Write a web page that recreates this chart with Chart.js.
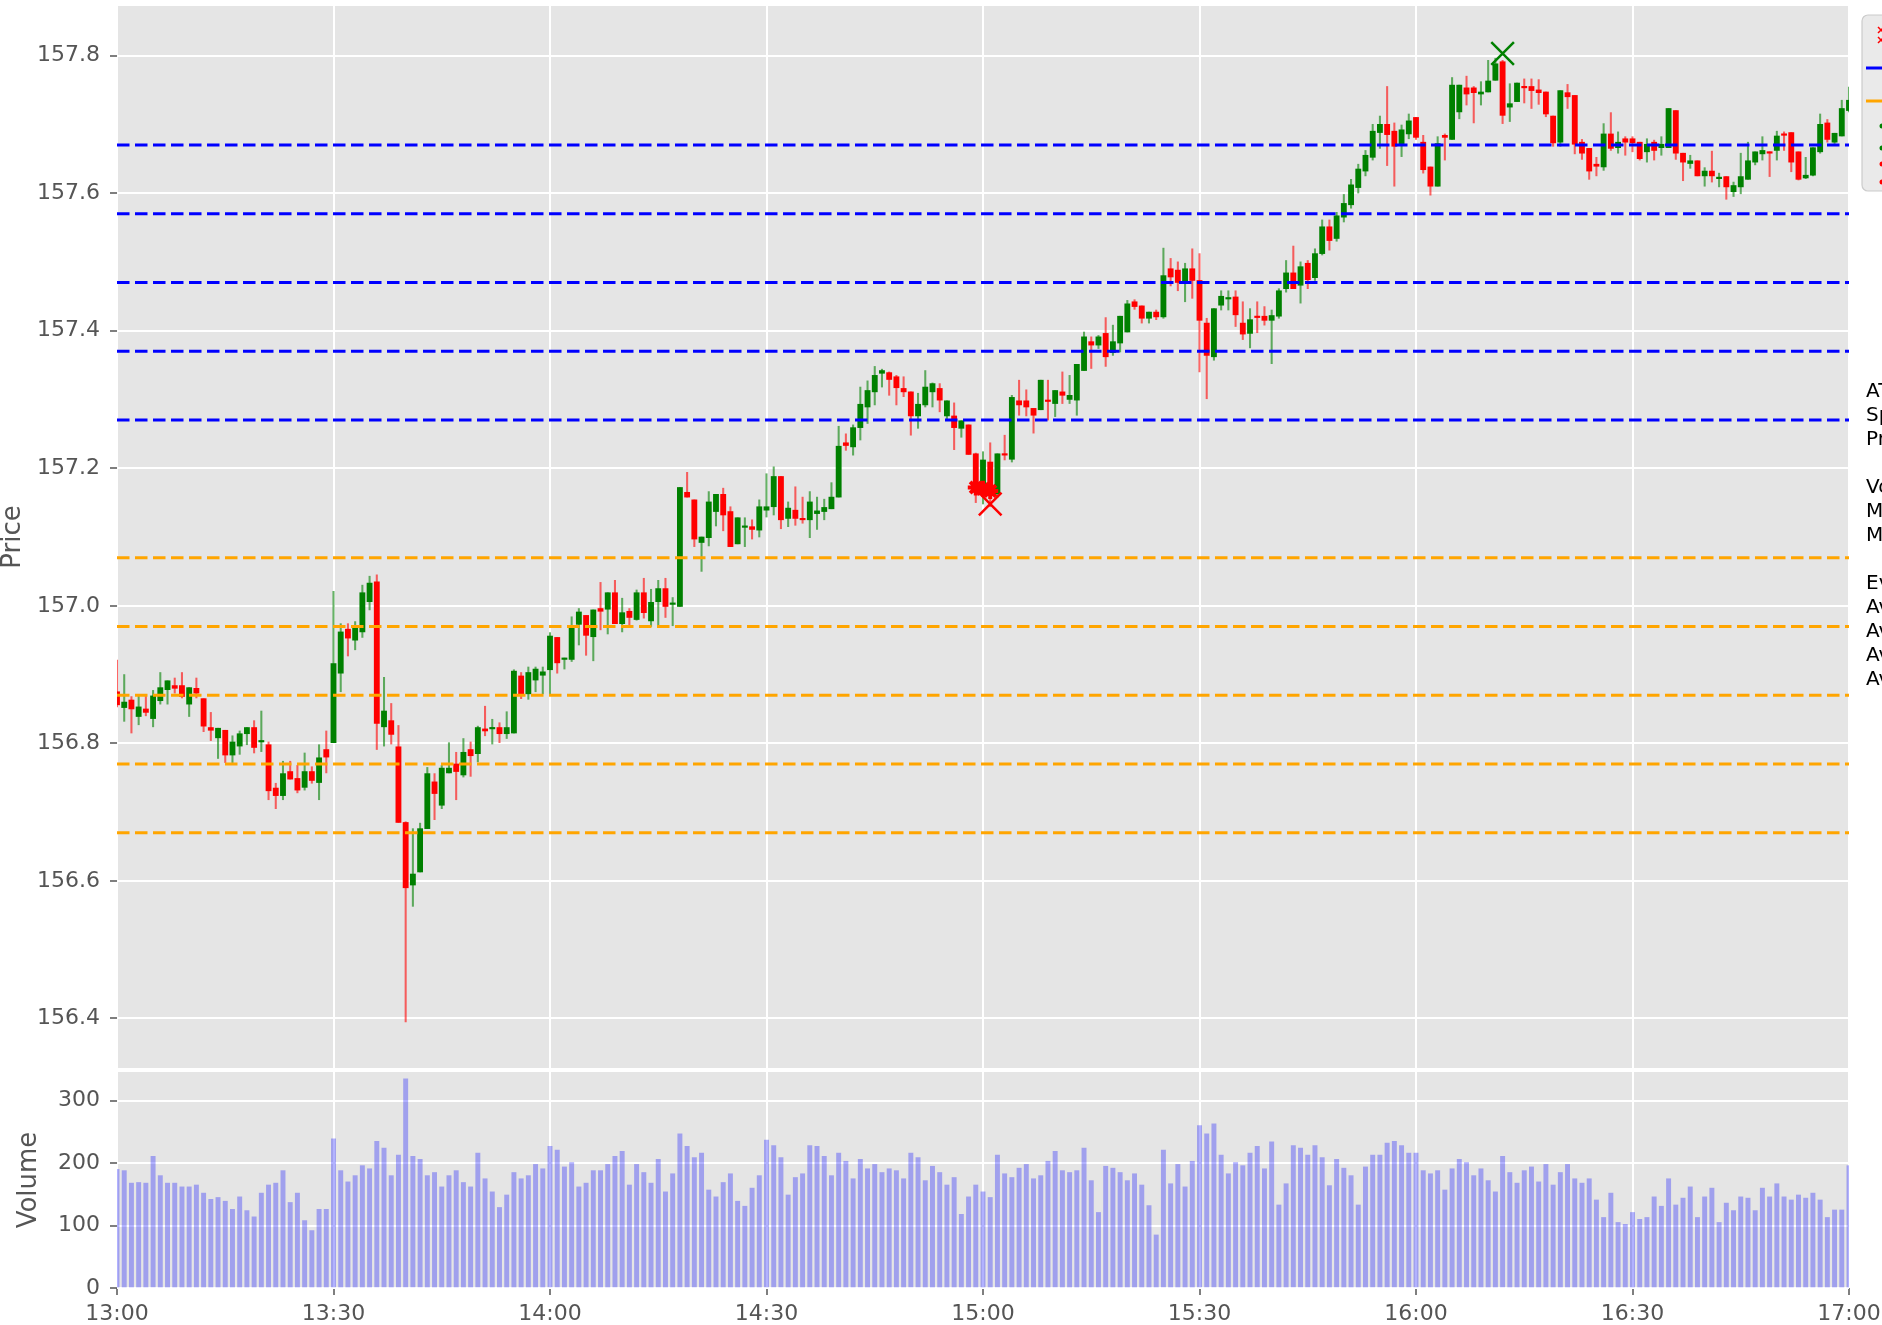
<!DOCTYPE html>
<html lang="en">

<head>
  <meta charset="UTF-8">
  <title>Price / Volume</title>
  <script src="https://cdn.jsdelivr.net/npm/chart.js"></script>
  <style>
    body { margin: 0; background: #fff; }
    #wrap { position: relative; width: 1882px; height: 1325px; overflow: hidden; }
    #wrap canvas { position: absolute; left: 0; top: 0; }
  </style>
</head>

<body>
  <div id="wrap">
    <canvas id="priceChart" width="1882" height="1325"></canvas>
    <canvas id="volumeChart" width="1882" height="1325"></canvas>
  </div>

  <script>
    // axis labels / ticks
    const tickLabels = ['13:00', '13:30', '14:00', '14:30', '15:00', '15:30', '16:00', '16:30', '17:00'];
    const priceTicks = [156.4, 156.6, 156.8, 157.0, 157.2, 157.4, 157.6, 157.8];
    const volumeTicks = [0, 100, 200, 300];

    // support / resistance levels
    const resistance = [157.27, 157.37, 157.47, 157.57, 157.67];
    const support = [157.07, 156.97, 156.87, 156.77, 156.67];

    // 1-minute candles, 13:00 .. 17:00 (index = minutes after 13:00)
    const opens = [
      156.875, 156.852, 156.863, 156.839, 156.850, 156.836, 156.862, 156.878, 156.884, 156.884,
      156.857, 156.880, 156.865, 156.823, 156.808, 156.819, 156.783, 156.796, 156.814, 156.823,
      156.802, 156.798, 156.735, 156.724, 156.759, 156.749, 156.736, 156.759, 156.743, 156.791,
      156.801, 156.902, 156.966, 156.950, 156.962, 157.006, 157.035, 156.824, 156.833, 156.795,
      156.685, 156.594, 156.613, 156.676, 156.744, 156.710, 156.757, 156.770, 156.754, 156.791,
      156.785, 156.821, 156.821, 156.823, 156.814, 156.815, 156.898, 156.872, 156.892, 156.899,
      156.907, 156.954, 156.922, 156.922, 156.973, 156.986, 156.955, 156.996, 156.995, 157.019,
      156.974, 156.992, 156.980, 157.019, 156.978, 157.006, 157.025, 157.002, 156.999, 157.165,
      157.154, 157.092, 157.099, 157.137, 157.162, 157.137, 157.090, 157.114, 157.115, 157.110,
      157.139, 157.144, 157.188, 157.127, 157.139, 157.126, 157.125, 157.134, 157.137, 157.141,
      157.158, 157.237, 157.231, 157.259, 157.289, 157.311, 157.338, 157.339, 157.333, 157.316,
      157.311, 157.276, 157.292, 157.311, 157.316, 157.276, 157.276, 157.258, 157.263, 157.221,
      157.165, 157.209, 157.163, 157.221, 157.213, 157.298, 157.298, 157.287, 157.285, 157.298,
      157.294, 157.311, 157.300, 157.299, 157.342, 157.384, 157.379, 157.396, 157.368, 157.382,
      157.398, 157.442, 157.436, 157.418, 157.427, 157.420, 157.490, 157.488, 157.471, 157.490,
      157.473, 157.411, 157.362, 157.437, 157.446, 157.449, 157.411, 157.396, 157.421, 157.421,
      157.415, 157.421, 157.461, 157.484, 157.466, 157.498, 157.477, 157.512, 157.551, 157.534,
      157.565, 157.583, 157.608, 157.632, 157.652, 157.688, 157.700, 157.690, 157.671, 157.686,
      157.710, 157.674, 157.638, 157.610, 157.684, 157.678, 157.718, 157.753, 157.753, 157.744,
      157.747, 157.764, 157.791, 157.725, 157.733, 157.755, 157.755, 157.750, 157.747, 157.712,
      157.674, 157.746, 157.742, 157.674, 157.665, 157.642, 157.638, 157.686, 157.666, 157.679,
      157.679, 157.674, 157.660, 157.674, 157.666, 157.666, 157.720, 157.658, 157.643, 157.647,
      157.625, 157.632, 157.621, 157.624, 157.602, 157.609, 157.620, 157.645, 157.657, 157.660,
      157.662, 157.686, 157.688, 157.660, 157.622, 157.626, 157.660, 157.702, 157.674, 157.683,
      157.720
    ];
    const highs = [
      156.921, 156.900, 156.868, 156.869, 156.869, 156.877, 156.903, 156.891, 156.895, 156.903,
      156.881, 156.895, 156.865, 156.845, 156.822, 156.819, 156.811, 156.818, 156.823, 156.833,
      156.847, 156.802, 156.742, 156.774, 156.774, 156.768, 156.786, 156.766, 156.798, 156.818,
      157.021, 156.974, 156.974, 156.977, 157.030, 157.043, 157.045, 156.896, 156.858, 156.826,
      156.686, 156.676, 156.684, 156.765, 156.756, 156.768, 156.801, 156.787, 156.807, 156.802,
      156.825, 156.854, 156.835, 156.830, 156.846, 156.907, 156.903, 156.911, 156.911, 156.911,
      156.961, 156.954, 156.924, 156.984, 156.996, 156.986, 156.994, 157.034, 157.019, 157.037,
      157.011, 156.996, 157.023, 157.040, 157.024, 157.037, 157.040, 157.012, 157.172, 157.194,
      157.154, 157.100, 157.166, 157.162, 157.171, 157.144, 157.128, 157.128, 157.125, 157.154,
      157.192, 157.202, 157.188, 157.151, 157.173, 157.158, 157.166, 157.158, 157.155, 157.179,
      157.261, 157.250, 157.263, 157.318, 157.327, 157.348, 157.344, 157.340, 157.335, 157.333,
      157.311, 157.309, 157.342, 157.324, 157.323, 157.298, 157.295, 157.269, 157.263, 157.222,
      157.224, 157.237, 157.221, 157.248, 157.306, 157.328, 157.314, 157.287, 157.328, 157.328,
      157.313, 157.340, 157.335, 157.351, 157.398, 157.391, 157.393, 157.419, 157.408, 157.421,
      157.444, 157.445, 157.436, 157.427, 157.430, 157.520, 157.505, 157.500, 157.498, 157.519,
      157.512, 157.418, 157.432, 157.458, 157.458, 157.458, 157.442, 157.432, 157.442, 157.435,
      157.430, 157.461, 157.502, 157.523, 157.500, 157.502, 157.519, 157.561, 157.561, 157.572,
      157.598, 157.620, 157.642, 157.662, 157.700, 157.712, 157.755, 157.702, 157.699, 157.715,
      157.710, 157.684, 157.638, 157.682, 157.686, 157.768, 157.757, 157.770, 157.755, 157.762,
      157.793, 157.796, 157.793, 157.759, 157.760, 157.766, 157.766, 157.765, 157.747, 157.712,
      157.749, 157.758, 157.742, 157.678, 157.665, 157.652, 157.701, 157.717, 157.689, 157.682,
      157.682, 157.674, 157.679, 157.677, 157.682, 157.723, 157.720, 157.658, 157.655, 157.647,
      157.637, 157.661, 157.629, 157.624, 157.616, 157.658, 157.674, 157.660, 157.682, 157.660,
      157.690, 157.689, 157.688, 157.660, 157.652, 157.666, 157.715, 157.707, 157.687, 157.735,
      157.754
    ];
    const lows = [
      156.853, 156.832, 156.815, 156.827, 156.840, 156.824, 156.857, 156.857, 156.873, 156.866,
      156.839, 156.866, 156.817, 156.804, 156.778, 156.772, 156.772, 156.784, 156.798, 156.786,
      156.788, 156.718, 156.705, 156.718, 156.748, 156.728, 156.732, 156.742, 156.718, 156.757,
      156.801, 156.875, 156.927, 156.936, 156.954, 156.994, 156.791, 156.796, 156.799, 156.685,
      156.395, 156.563, 156.613, 156.676, 156.689, 156.705, 156.757, 156.718, 156.751, 156.752,
      156.773, 156.811, 156.799, 156.801, 156.807, 156.815, 156.865, 156.864, 156.875, 156.872,
      156.872, 156.902, 156.908, 156.919, 156.943, 156.928, 156.920, 156.965, 156.959, 156.974,
      156.962, 156.972, 156.979, 156.982, 156.970, 156.970, 156.983, 156.971, 156.999, 157.158,
      157.086, 157.050, 157.087, 157.116, 157.109, 157.086, 157.090, 157.086, 157.097, 157.100,
      157.129, 157.132, 157.112, 157.115, 157.117, 157.120, 157.099, 157.111, 157.125, 157.141,
      157.158, 157.226, 157.219, 157.241, 157.265, 157.292, 157.318, 157.306, 157.292, 157.304,
      157.248, 157.258, 157.289, 157.289, 157.282, 157.272, 157.227, 157.245, 157.220, 157.150,
      157.148, 157.144, 157.158, 157.212, 157.209, 157.277, 157.276, 157.251, 157.285, 157.270,
      157.275, 157.294, 157.294, 157.277, 157.342, 157.345, 157.374, 157.348, 157.364, 157.369,
      157.398, 157.431, 157.411, 157.411, 157.416, 157.418, 157.465, 157.458, 157.442, 157.447,
      157.340, 157.301, 157.357, 157.430, 157.430, 157.406, 157.387, 157.375, 157.397, 157.408,
      157.352, 157.418, 157.456, 157.461, 157.440, 157.461, 157.473, 157.510, 157.517, 157.530,
      157.558, 157.578, 157.600, 157.625, 157.648, 157.665, 157.640, 157.610, 157.653, 157.679,
      157.678, 157.629, 157.597, 157.610, 157.648, 157.678, 157.708, 157.728, 157.702, 157.728,
      157.747, 157.764, 157.701, 157.704, 157.733, 157.731, 157.723, 157.729, 157.711, 157.668,
      157.668, 157.723, 157.657, 157.649, 157.620, 157.625, 157.633, 157.662, 157.658, 157.655,
      157.660, 157.648, 157.645, 157.648, 157.655, 157.666, 157.649, 157.618, 157.636, 157.625,
      157.610, 157.616, 157.609, 157.591, 157.595, 157.599, 157.620, 157.641, 157.648, 157.624,
      157.648, 157.662, 157.631, 157.619, 157.621, 157.625, 157.658, 157.674, 157.672, 157.683,
      157.718
    ];
    const closes = [
      156.856, 156.860, 156.850, 156.853, 156.845, 156.869, 156.881, 156.891, 156.880, 156.868,
      156.881, 156.873, 156.825, 156.819, 156.822, 156.783, 156.802, 156.814, 156.823, 156.794,
      156.803, 156.731, 156.724, 156.756, 156.748, 156.732, 156.759, 156.746, 156.779, 156.780,
      156.916, 156.962, 156.953, 156.969, 157.019, 157.033, 156.829, 156.847, 156.813, 156.685,
      156.590, 156.610, 156.676, 156.756, 156.727, 156.764, 156.764, 156.759, 156.787, 156.782,
      156.823, 156.818, 156.822, 156.814, 156.823, 156.905, 156.872, 156.903, 156.908, 156.904,
      156.956, 156.917, 156.923, 156.970, 156.991, 156.957, 156.994, 156.992, 157.019, 156.974,
      156.990, 156.983, 157.019, 156.990, 157.005, 157.025, 156.999, 157.003, 157.172, 157.158,
      157.097, 157.100, 157.151, 157.162, 157.132, 157.086, 157.128, 157.115, 157.111, 157.144,
      157.144, 157.188, 157.125, 157.142, 157.127, 157.125, 157.151, 157.138, 157.143, 157.158,
      157.232, 157.233, 157.259, 157.293, 157.313, 157.335, 157.342, 157.329, 157.317, 157.311,
      157.276, 157.293, 157.318, 157.323, 157.299, 157.298, 157.259, 157.269, 157.220, 157.165,
      157.212, 157.163, 157.221, 157.219, 157.303, 157.292, 157.289, 157.277, 157.328, 157.297,
      157.313, 157.306, 157.306, 157.351, 157.391, 157.379, 157.391, 157.362, 157.384, 157.421,
      157.439, 157.435, 157.418, 157.427, 157.420, 157.480, 157.478, 157.470, 157.490, 157.473,
      157.415, 157.364, 157.432, 157.450, 157.447, 157.423, 157.395, 157.416, 157.419, 157.415,
      157.422, 157.458, 157.484, 157.461, 157.493, 157.474, 157.512, 157.551, 157.531, 157.567,
      157.585, 157.612, 157.635, 157.655, 157.690, 157.700, 157.685, 157.668, 157.692, 157.705,
      157.681, 157.634, 157.610, 157.672, 157.681, 157.757, 157.757, 157.744, 157.746, 157.747,
      157.763, 157.788, 157.713, 157.730, 157.760, 157.753, 157.749, 157.746, 157.715, 157.673,
      157.749, 157.740, 157.671, 157.658, 157.632, 157.639, 157.686, 157.665, 157.674, 157.674,
      157.673, 157.650, 157.671, 157.662, 157.671, 157.723, 157.658, 157.645, 157.647, 157.625,
      157.632, 157.625, 157.623, 157.609, 157.611, 157.624, 157.647, 157.660, 157.662, 157.658,
      157.683, 157.684, 157.645, 157.620, 157.626, 157.666, 157.700, 157.678, 157.687, 157.723,
      157.735
    ];
    const volumes = [
      190, 188, 168, 169, 168, 211, 180, 168, 168, 162, 162, 165, 152, 142, 145, 139, 126, 146, 124, 114,
      152, 165, 168, 188, 137, 152, 108, 92, 126, 126, 239, 188, 170, 180, 196, 191, 235, 224, 180, 213,
      335, 211, 206, 180, 185, 162, 180, 188, 169, 162, 216, 175, 154, 129, 149, 185, 175, 180, 198, 191,
      227, 221, 194, 201, 162, 168, 188, 188, 198, 211, 219, 165, 198, 185, 168, 206, 154, 183, 247, 227,
      209, 216, 157, 146, 169, 183, 139, 131, 160, 180, 237, 228, 209, 149, 177, 183, 228, 227, 211, 180,
      216, 203, 175, 206, 191, 198, 185, 191, 188, 175, 216, 209, 172, 195, 185, 165, 177, 118, 146, 165,
      154, 145, 213, 183, 177, 192, 198, 175, 180, 203, 219, 188, 185, 188, 224, 172, 121, 195, 192, 185,
      172, 183, 165, 132, 85, 221, 167, 198, 162, 203, 260, 247, 263, 213, 183, 201, 196, 216, 227, 191,
      234, 133, 167, 228, 224, 213, 228, 209, 164, 206, 192, 180, 133, 194, 213, 213, 232, 235, 228, 216,
      216, 188, 183, 188, 157, 191, 206, 201, 180, 191, 172, 154, 211, 185, 168, 188, 194, 170, 198, 165,
      185, 198, 175, 168, 175, 141, 113, 152, 105, 102, 121, 110, 113, 146, 131, 175, 133, 144, 162, 113,
      146, 160, 105, 136, 124, 146, 144, 124, 160, 146, 167, 146, 141, 149, 144, 152, 141, 113, 125, 125,
      196
    ];

    // signal markers (minute index, price)
    const peakX = [192];
    const peakY = [157.803];
    const dipX = [121];
    const dipY = [157.148];
    const dipStarX = [119, 120, 121];
    const dipStarY = [157.172, 157.170, 157.167];

    // stats box text on the right (mostly cut off by the figure edge)
    const sideText = ['ATR', 'Spread', 'Price', '', 'Volume', 'Max', 'Min', '', 'Events', 'Avg', 'Avg', 'Avg', 'Avg'];

    const UP = '#008000', DOWN = '#ff0000';
    const UP_WICK = 'rgba(0,128,0,0.6)', DOWN_WICK = 'rgba(255,0,0,0.6)';
    const isUp = closes.map((c, i) => c >= opens[i]);

    Chart.defaults.font.family = "'DejaVu Sans', sans-serif";
    Chart.defaults.color = '#555555';

    const tickFont = { size: 22 };
    const titleFont = { size: 26, lineHeight: 1.05 };

    // grey panel behind each plot area
    const panelBg = {
      id: 'panelBg',
      beforeDraw(chart) {
        const { ctx, chartArea: a } = chart;
        ctx.save();
        ctx.fillStyle = '#e5e5e5';
        ctx.fillRect(a.left, a.top, a.right - a.left, a.bottom - a.top);
        ctx.restore();
      }
    };

    // legend stub + stats text that run off the right edge
    const sideBits = {
      id: 'sideBits',
      afterDraw(chart) {
        const ctx = chart.ctx;
        ctx.save();
        ctx.beginPath();
        ctx.roundRect(1862, 15, 80, 176, 6);
        ctx.fillStyle = 'rgba(229,229,229,0.8)';
        ctx.fill();
        ctx.strokeStyle = '#cccccc';
        ctx.lineWidth = 1.2;
        ctx.stroke();

        ctx.fillStyle = DOWN;
        ctx.strokeStyle = DOWN;
        ctx.lineWidth = 1.5;
        [30, 40].forEach(y => {
          ctx.beginPath();
          ctx.moveTo(1878, y - 3); ctx.lineTo(1884, y + 3);
          ctx.moveTo(1884, y - 3); ctx.lineTo(1878, y + 3);
          ctx.stroke();
        });
        ctx.lineWidth = 3;
        ctx.strokeStyle = '#0000ff';
        ctx.beginPath(); ctx.moveTo(1866, 68); ctx.lineTo(1882, 68); ctx.stroke();
        ctx.strokeStyle = '#ffa500';
        ctx.beginPath(); ctx.moveTo(1866, 101); ctx.lineTo(1882, 101); ctx.stroke();
        [[126, UP], [148, UP], [164, DOWN], [182, DOWN]].forEach(([y, c]) => {
          ctx.fillStyle = c;
          ctx.beginPath(); ctx.arc(1882, y, 2.5, 0, Math.PI * 2); ctx.fill();
        });

        ctx.fillStyle = '#000';
        ctx.font = "20px 'DejaVu Sans'";
        ctx.textBaseline = 'middle';
        sideText.forEach((t, i) => ctx.fillText(t, 1866, 392 + i * 24));
        ctx.restore();
      }
    };

    const levelLine = (v, color) => ({
      type: 'line',
      data: [{ x: 0, y: v }, { x: 240, y: v }],
      borderColor: color,
      borderWidth: 3,
      borderDash: [12.5, 5.5],
      pointRadius: 0,
      order: 1
    });

    // keep the plot areas exactly where the layout padding puts them
    const fixY = s => { s.width = 117; s.paddingTop = 0; s.paddingBottom = 0; };

    new Chart(document.getElementById('priceChart'), {
      type: 'bar',
      data: {
        datasets: [
          {
            type: 'line', showLine: false, order: 0,
            data: peakX.map((x, i) => ({ x, y: peakY[i] })),
            pointStyle: 'crossRot', pointRadius: 16, pointBorderWidth: 2.5,
            borderColor: UP, backgroundColor: UP
          },
          {
            type: 'line', showLine: false, order: 0,
            data: dipX.map((x, i) => ({ x, y: dipY[i] })),
            pointStyle: 'crossRot', pointRadius: 16, pointBorderWidth: 2.5,
            borderColor: DOWN, backgroundColor: DOWN
          },
          {
            type: 'line', showLine: false, order: 0,
            data: dipStarX.map((x, i) => ({ x, y: dipStarY[i] })),
            pointStyle: 'star', pointRadius: 8, pointBorderWidth: 4,
            borderColor: DOWN, backgroundColor: DOWN
          },
          ...resistance.map(v => levelLine(v, '#0000ff')),
          ...support.map(v => levelLine(v, '#ffa500')),
          {
            data: opens.map((o, i) => ({ x: i, y: [o, closes[i]] })),
            backgroundColor: isUp.map(u => u ? UP : DOWN),
            barThickness: 5.2, minBarLength: 1.5, grouped: false, clip: 0, order: 2
          },
          {
            data: lows.map((l, i) => ({ x: i, y: [l, highs[i]] })),
            backgroundColor: isUp.map(u => u ? UP_WICK : DOWN_WICK),
            barThickness: 1.4, grouped: false, clip: 0, order: 3
          }
        ]
      },
      options: {
        responsive: false,
        animation: false,
        layout: { autoPadding: false, padding: { left: 0, right: 33, top: 6, bottom: 257 } },
        plugins: { legend: { display: false }, tooltip: { enabled: false } },
        scales: {
          x: {
            type: 'linear', min: 0, max: 240, offset: false,
            grid: { offset: false, color: '#ffffff', lineWidth: 2, drawTicks: false },
            border: { display: false },
            ticks: { display: false, stepSize: 30 },
            afterFit: s => { s.height = 0; s.paddingLeft = 0; s.paddingRight = 0; }
          },
          y: {
            type: 'linear', min: 156.328, max: 157.872,
            grid: { color: '#ffffff', lineWidth: 2, tickColor: '#555555', tickLength: 7, tickWidth: 1.5 },
            border: { display: false },
            ticks: { font: tickFont, color: '#555555', padding: 10, callback: v => v.toFixed(1) },
            afterBuildTicks: s => { s.ticks = priceTicks.map(v => ({ value: v })); },
            afterFit: fixY,
            title: { display: true, text: 'Price', font: titleFont, color: '#555555', padding: { top: 0, bottom: 0 } }
          }
        }
      },
      plugins: [panelBg, sideBits]
    });

    new Chart(document.getElementById('volumeChart'), {
      type: 'bar',
      data: {
        datasets: [{
          data: volumes.map((v, i) => ({ x: i, y: v })),
          backgroundColor: 'rgba(0,0,255,0.3)',
          barThickness: 4.3, grouped: false, clip: 0
        }]
      },
      options: {
        responsive: false,
        animation: false,
        layout: { autoPadding: false, padding: { left: 0, right: 33, top: 1072, bottom: 0 } },
        plugins: { legend: { display: false }, tooltip: { enabled: false } },
        scales: {
          x: {
            type: 'linear', min: 0, max: 240, offset: false,
            grid: { offset: false, color: '#ffffff', lineWidth: 2, tickColor: '#555555', tickLength: 7, tickWidth: 1.5 },
            border: { display: false },
            ticks: { font: tickFont, color: '#555555', padding: 6, maxRotation: 0, callback: v => tickLabels[v / 30] },
            afterBuildTicks: s => { s.ticks = tickLabels.map((t, i) => ({ value: i * 30 })); },
            afterFit: s => { s.height = 37; s.paddingLeft = 0; s.paddingRight = 0; }
          },
          y: {
            type: 'linear', min: 0, max: 346,
            grid: { color: '#ffffff', lineWidth: 2, tickColor: '#555555', tickLength: 7, tickWidth: 1.5 },
            border: { display: false },
            ticks: { font: tickFont, color: '#555555', padding: 10 },
            afterBuildTicks: s => { s.ticks = volumeTicks.map(v => ({ value: v })); },
            afterFit: fixY,
            title: { display: true, text: 'Volume', font: titleFont, color: '#555555', padding: { top: 16, bottom: 0 } }
          }
        }
      },
      plugins: [panelBg]
    });
  </script>
</body>

</html>
